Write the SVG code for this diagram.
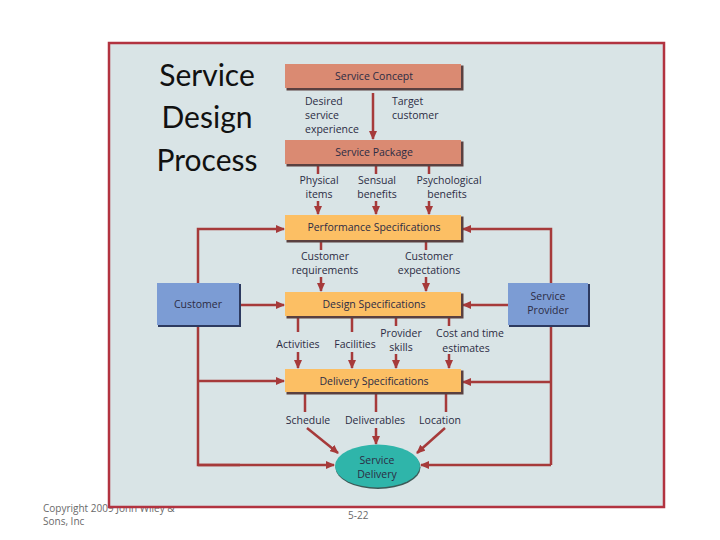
<svg xmlns="http://www.w3.org/2000/svg" width="720" height="540" viewBox="0 0 720 540">
<defs>
<marker id="ah" markerUnits="userSpaceOnUse" markerWidth="9" markerHeight="8" refX="8" refY="4" orient="auto">
<path d="M0,0 L9,4 L0,8 Z" fill="#a63a3a"/>
</marker>
<style>
.ln{stroke:#a63a3a;stroke-width:2.5;fill:none}
.ar{stroke:#a63a3a;stroke-width:2.5;fill:none;marker-end:url(#ah)}
.t{font-family:"Open Sans","Liberation Sans",sans-serif;font-size:10.5px;fill:#2c2c44;text-anchor:middle}
.tl{font-family:"Open Sans","Liberation Sans",sans-serif;font-size:10.5px;fill:#2c2c44}
.sh{fill:#5a4040}
.red{fill:#da8a72}
.org{fill:#fcbf64}
.blu{fill:#7c9cd4}
.title{font-family:Lato,"Open Sans",sans-serif;font-size:30px;fill:#111;text-anchor:middle}
.foot{font-family:"Open Sans","Liberation Sans",sans-serif;font-size:10px;fill:#6a6a6a}
</style>
</defs>
<rect width="720" height="540" fill="#ffffff"/>
<text class="foot" x="43" y="512">Copyright 2009 John Wiley &amp;</text>
<text class="foot" x="43" y="525">Sons, Inc</text>
<rect x="109" y="43" width="555" height="464" fill="#d9e4e6" stroke="#b23340" stroke-width="2.5"/>
<text class="foot" x="348" y="519">5-22</text>
<g id="title">
<text class="title" x="207" y="86">Service</text>
<text class="title" x="207" y="128">Design</text>
<text class="title" x="207" y="171">Process</text>
</g>
<g id="connectors">
<line class="ar" x1="373" y1="93" x2="373" y2="139"/>
<line class="ln" x1="318" y1="166" x2="318" y2="174"/>
<line class="ln" x1="376" y1="166" x2="376" y2="174"/>
<line class="ln" x1="429" y1="166" x2="429" y2="174"/>
<line class="ar" x1="318" y1="201" x2="318" y2="214"/>
<line class="ar" x1="376" y1="201" x2="376" y2="214"/>
<line class="ar" x1="429" y1="201" x2="429" y2="214"/>
<line class="ln" x1="321" y1="242" x2="321" y2="250"/>
<line class="ln" x1="426" y1="242" x2="426" y2="250"/>
<line class="ar" x1="321" y1="277" x2="321" y2="291"/>
<line class="ar" x1="426" y1="277" x2="426" y2="291"/>
<line class="ln" x1="298" y1="318" x2="298" y2="332"/>
<line class="ln" x1="352" y1="318" x2="352" y2="332"/>
<line class="ln" x1="396" y1="318" x2="396" y2="326"/>
<line class="ln" x1="449" y1="318" x2="449" y2="326"/>
<line class="ar" x1="298" y1="352" x2="298" y2="368"/>
<line class="ar" x1="352" y1="352" x2="352" y2="368"/>
<line class="ar" x1="396" y1="354" x2="396" y2="368"/>
<line class="ar" x1="449" y1="354" x2="449" y2="368"/>
<line class="ln" x1="305" y1="394" x2="305" y2="412"/>
<line class="ln" x1="376" y1="394" x2="376" y2="412"/>
<line class="ln" x1="446" y1="394" x2="446" y2="412"/>
<line class="ar" x1="307" y1="428" x2="338" y2="453"/>
<line class="ar" x1="376" y1="428" x2="376" y2="444"/>
<line class="ar" x1="445" y1="428" x2="417" y2="453"/>
<polyline class="ar" points="198,283 198,229 284,229"/>
<line class="ar" x1="241" y1="305" x2="284" y2="305"/>
<polyline class="ln" points="198,327 198,465 240,465"/>
<line class="ar" x1="198" y1="381" x2="284" y2="381"/>
<line class="ar" x1="198" y1="465" x2="334" y2="465"/>
<polyline class="ar" points="551,283 551,229 463,229"/>
<line class="ar" x1="508" y1="305" x2="463" y2="305"/>
<polyline class="ln" points="551,327 551,465"/>
<line class="ar" x1="551" y1="382" x2="463" y2="382"/>
<line class="ar" x1="551" y1="465" x2="421" y2="465"/>
</g>
<g id="service-concept">
<rect class="sh" x="286.5" y="65.5" width="177" height="25"/>
<rect class="red" x="285" y="64" width="176" height="24"/>
<text class="t" x="374" y="80">Service Concept</text>
</g>
<g id="label-desired">
<text class="tl" x="305" y="105">Desired</text>
<text class="tl" x="305" y="119">service</text>
<text class="tl" x="305" y="133">experience</text>
</g>
<g id="label-target">
<text class="tl" x="392" y="105">Target</text>
<text class="tl" x="392" y="119">customer</text>
</g>
<g id="service-package">
<rect class="sh" x="286.5" y="141.5" width="177" height="25"/>
<rect class="red" x="285" y="140" width="176" height="24"/>
<text class="t" x="374" y="156">Service Package</text>
</g>
<g id="label-physical">
<text class="t" x="319" y="184">Physical</text>
<text class="t" x="319" y="198">items</text>
</g>
<g id="label-sensual">
<text class="t" x="377" y="184">Sensual</text>
<text class="t" x="377" y="198">benefits</text>
</g>
<g id="label-psych">
<text class="t" x="449" y="184">Psychological</text>
<text class="t" x="447" y="198">benefits</text>
</g>
<g id="performance-spec">
<rect class="sh" x="286.5" y="216.5" width="177" height="26"/>
<rect class="org" x="285" y="215" width="176" height="25"/>
<text class="t" x="374" y="231">Performance Specifications</text>
</g>
<g id="label-req">
<text class="t" x="325" y="260">Customer</text>
<text class="t" x="325" y="274">requirements</text>
</g>
<g id="label-exp">
<text class="t" x="429" y="260">Customer</text>
<text class="t" x="429" y="274">expectations</text>
</g>
<g id="design-spec">
<rect class="sh" x="286.5" y="293.5" width="177" height="25"/>
<rect class="org" x="285" y="292" width="176" height="24"/>
<text class="t" x="374" y="308">Design Specifications</text>
</g>
<g id="label-activities"><text class="t" x="298" y="348">Activities</text></g>
<g id="label-facilities"><text class="t" x="355" y="348">Facilities</text></g>
<g id="label-provider">
<text class="t" x="401" y="337">Provider</text>
<text class="t" x="401" y="351">skills</text>
</g>
<g id="label-cost">
<text class="t" x="470" y="337">Cost and time</text>
<text class="t" x="466" y="352">estimates</text>
</g>
<g id="delivery-spec">
<rect class="sh" x="286.5" y="370.5" width="177" height="24"/>
<rect class="org" x="285" y="369" width="176" height="23"/>
<text class="t" x="374" y="385">Delivery Specifications</text>
</g>
<g id="label-schedule"><text class="t" x="308" y="424">Schedule</text></g>
<g id="label-deliverables"><text class="t" x="375" y="424">Deliverables</text></g>
<g id="label-location"><text class="t" x="440" y="424">Location</text></g>
<g id="service-delivery">
<ellipse cx="378" cy="467.5" rx="42.5" ry="21.5" fill="#3d5a58"/>
<ellipse cx="377.5" cy="466" rx="42.5" ry="21.5" fill="#2fb5aa"/>
<text class="t" x="377" y="464" fill="#1e3a50">Service</text>
<text class="t" x="377" y="478">Delivery</text>
</g>
<g id="customer">
<rect x="158" y="284" width="83" height="43" fill="#2d3a60"/>
<rect class="blu" x="157" y="283" width="82" height="42"/>
<text class="t" x="198" y="308">Customer</text>
</g>
<g id="service-provider">
<rect x="509" y="284" width="81" height="43" fill="#2d3a60"/>
<rect class="blu" x="508" y="283" width="80" height="42"/>
<text class="t" x="548" y="300">Service</text>
<text class="t" x="548" y="314">Provider</text>
</g>
</svg>
